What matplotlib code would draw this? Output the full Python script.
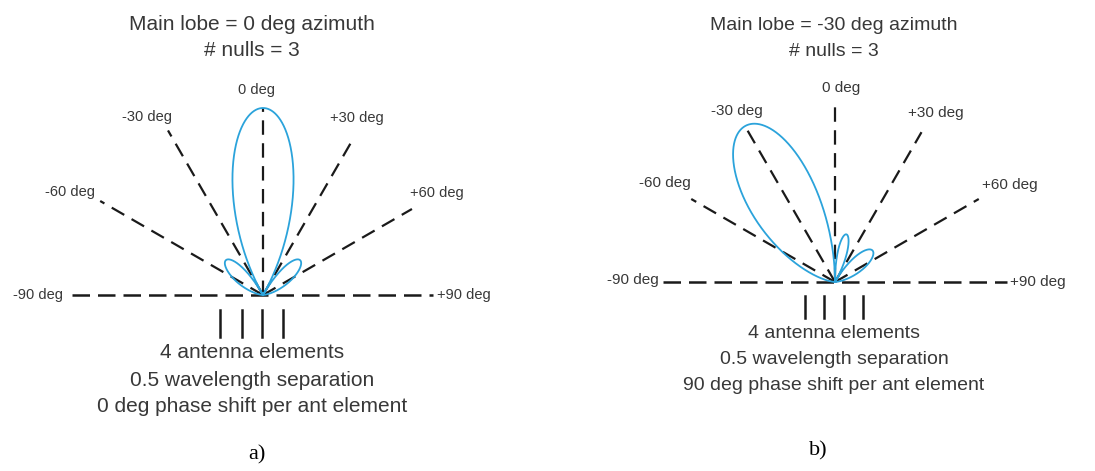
import numpy as np
import matplotlib.pyplot as plt

plt.rcParams['font.family'] = ['Liberation Sans', 'DejaVu Sans']

# array settings shown under each panel
n_elements = 4
separation = 0.5          # wavelengths
phase_shifts = [0, 90]    # deg per element
main_lobes = [0, -30]
n_nulls = [3, 3]
panel_tags = ['a)', 'b)']
ray_angles = [-90, -60, -30, 0, 30, 60, 90]
ray_labels = ['-90 deg', '-60 deg', '-30 deg', '0 deg', '+30 deg', '+60 deg', '+90 deg']

blue = '#2ba3db'
txt = '#383838'

# per-panel layout, in pixels
panels = [
    dict(ox=263, oy=295, R=187, ray_len=[191, 188, 190, 187, 182, 172, 170],
         lab_xy=[(63, 295), (70, 192), (147, 117), (257, 90), (357, 118), (437, 193), (437, 295)],
         cx=252, title_y=(25, 51), text_y=(352, 380, 406), tsize=15, lsize=10.5,
         ticks_x=[220, 242, 262, 283], ticks_y=(310, 337), tag_xy=(257, 455)),
    dict(ox=835, oy=282, R=180, ray_len=[172, 166, 177, 176, 173, 166, 172],
         lab_xy=[(659, 280), (665, 183), (737, 111), (841, 88), (936, 113), (1010, 185), (1010, 282)],
         cx=834, title_y=(25, 51), text_y=(334, 359, 385), tsize=14, lsize=11,
         ticks_x=[805, 824, 844, 863], ticks_y=(296, 318), tag_xy=(818, 451)),
]


def array_factor(theta_deg, n, d, beta_deg):
    psi = 2 * np.pi * d * np.sin(np.radians(theta_deg)) + np.radians(beta_deg)
    num = np.sin(n * psi / 2)
    den = n * np.sin(psi / 2)
    small = np.abs(den) < 1e-9
    af = np.where(small, 1.0, num / np.where(small, 1, den))
    return np.abs(af)


fig = plt.figure(figsize=(10.95, 4.71), dpi=100)
ax = fig.add_axes([0, 0, 1, 1])
ax.set_xlim(0, 1095)
ax.set_ylim(471, 0)
ax.axis('off')

theta = np.linspace(-90, 90, 3001)

for i, p in enumerate(panels):
    ox, oy = p['ox'], p['oy']
    # dashed direction rays
    for ang, L in zip(ray_angles, p['ray_len']):
        if abs(ang) == 90:
            continue
        a = np.radians(ang)
        ax.plot([ox, ox + L * np.sin(a)], [oy, oy - L * np.cos(a)], color='#1a1a1a',
                lw=1.6, dashes=(6.5, 3.8), solid_capstyle='butt', zorder=2)
    ax.plot([ox - p['ray_len'][0], ox + p['ray_len'][-1]], [oy, oy], color='#1a1a1a',
            lw=1.8, dashes=(7, 3.2), zorder=2)
    for k, (lab, (lx, ly)) in enumerate(zip(ray_labels, p['lab_xy'])):
        ha = 'right' if k == 0 else ('left' if k == len(ray_labels) - 1 else 'center')
        ax.text(lx, ly, lab, ha=ha, va='center', fontsize=p['lsize'], color=txt)

    # radiation pattern
    af = array_factor(theta, n_elements, separation, phase_shifts[i])
    r = p['R'] * af
    ax.plot(ox + r * np.sin(np.radians(theta)), oy - r * np.cos(np.radians(theta)),
            color=blue, lw=1.3, zorder=3)

    # antenna elements
    for tx in p['ticks_x']:
        ax.plot([tx, tx], list(p['ticks_y']), color='#1a1a1a', lw=1.8)

    ax.text(p['cx'], p['title_y'][0], 'Main lobe = %d deg azimuth' % main_lobes[i],
            ha='center', va='center', fontsize=p['tsize'], color=txt)
    ax.text(p['cx'], p['title_y'][1], '# nulls = %d' % n_nulls[i],
            ha='center', va='center', fontsize=p['tsize'], color=txt)
    lines = ['%d antenna elements' % n_elements,
             '%g wavelength separation' % separation,
             '%d deg phase shift per ant element' % phase_shifts[i]]
    for s, ty in zip(lines, p['text_y']):
        ax.text(p['cx'], ty, s, ha='center', va='center', fontsize=p['tsize'], color=txt)
    ax.text(p['tag_xy'][0], p['tag_xy'][1], panel_tags[i], ha='center', va='center',
            fontsize=16, family='Liberation Serif', color='black')

fig.savefig('out.png', dpi=100)
